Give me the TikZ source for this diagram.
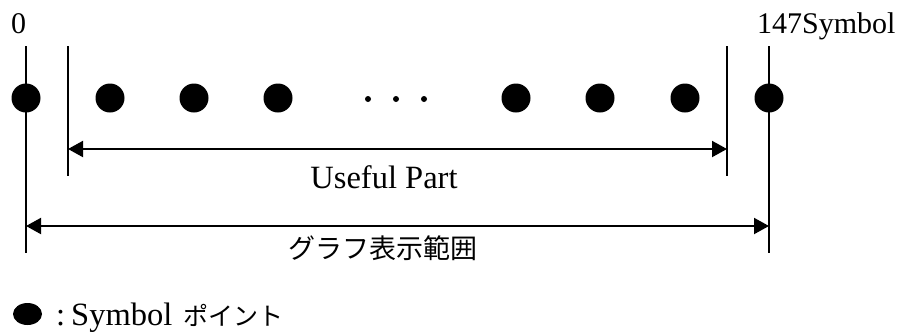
\documentclass[tikz,border=0pt]{standalone}
\usepackage{fontspec}
\setmainfont{Liberation Serif}
\newfontfamily\cjk{Noto Sans CJK JP}
\usetikzlibrary{arrows.meta,shapes.geometric}
\tikzset{
  dot/.style={circle,fill=black,draw=none,minimum size=29pt,inner sep=0pt},
  smalldot/.style={circle,fill=black,draw=none,minimum size=6pt,inner sep=0pt},
  vline/.style={line width=2.5pt},
  dimarrow/.style={line width=2pt,{Triangle[length=15pt,width=16pt]}-{Triangle[length=15pt,width=16pt]}},
  lbl/.style={inner sep=0pt,font=\fontsize{30pt}{36pt}\selectfont},
  biglbl/.style={inner sep=0pt,font=\fontsize{32.5pt}{38pt}\selectfont},
  jlbl/.style={inner sep=0pt,font=\fontsize{27pt}{32pt}\selectfont\cjk}
}
\begin{document}
\begin{tikzpicture}[x=1pt,y=-1pt]
\useasboundingbox[fill=white] (0,0) rectangle (899,333);
% vertical boundary lines
\coordinate (aT) at (26,46);  \coordinate (aB) at (26,253);
\coordinate (bT) at (68,46);  \coordinate (bB) at (68,176);
\coordinate (cT) at (727,46); \coordinate (cB) at (727,176);
\coordinate (dT) at (769,46); \coordinate (dB) at (769,253);
\draw[vline] (aT) -- (aB);
\draw[vline] (bT) -- (bB);
\draw[vline] (cT) -- (cB);
\draw[vline] (dT) -- (dB);
% symbol points
\node[dot] (p0) at (26,98) {};
\node[dot] (p1) at (110,98) {};
\node[dot] (p2) at (194,98) {};
\node[dot] (p3) at (278,98) {};
\node[smalldot] (e1) at (368,99) {};
\node[smalldot] (e2) at (396,99) {};
\node[smalldot] (e3) at (424,99) {};
\node[dot] (p4) at (516,98) {};
\node[dot] (p5) at (600,98) {};
\node[dot] (p6) at (685,98) {};
\node[dot] (p7) at (769,98) {};
% dimension arrows
\coordinate (uL) at (68,149);  \coordinate (uR) at (727,149);
\coordinate (gL) at (26,226);  \coordinate (gR) at (769,226);
\draw[dimarrow] (uL) -- (uR);
\draw[dimarrow] (gL) -- (gR);
% labels
\node[lbl,anchor=base] (zero) at (18.5,33) {0};
\node[lbl,anchor=base west] (last) at (757,33) {147Symbol};
\node[biglbl,anchor=base] (useful) at (384,188) {Useful Part};
\node[jlbl,anchor=base] (graph) at (383,258) {グラフ表示範囲};
% legend
\node[ellipse,fill=black,minimum width=29pt,minimum height=22pt,inner sep=0pt] (legdot) at (27.5,314) {};
\node[biglbl,anchor=base west] (legtxt) at (56,325) {:\hspace{6pt}Symbol\hspace{11pt}{\fontsize{25pt}{30pt}\selectfont\cjk ポイント}};
\end{tikzpicture}
\end{document}
